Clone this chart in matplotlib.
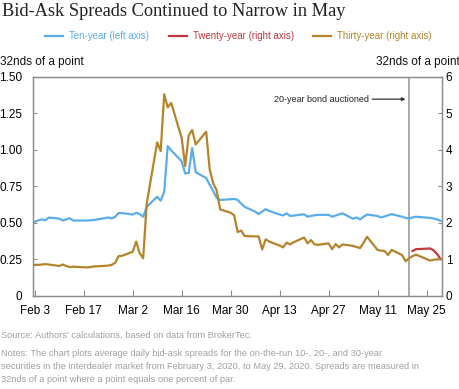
import matplotlib
matplotlib.use("Agg")
import matplotlib.pyplot as plt
import pandas as pd
import numpy as np

plt.rcParams['font.family'] = ['Liberation Sans', 'DejaVu Sans']

dates = [
    "2020-02-03", "2020-02-04", "2020-02-05", "2020-02-06", "2020-02-07",
    "2020-02-10", "2020-02-11", "2020-02-12", "2020-02-13", "2020-02-14",
    "2020-02-18", "2020-02-19", "2020-02-20", "2020-02-21",
    "2020-02-24", "2020-02-25", "2020-02-26", "2020-02-27", "2020-02-28",
    "2020-03-02", "2020-03-03", "2020-03-04", "2020-03-05", "2020-03-06",
    "2020-03-09", "2020-03-10", "2020-03-11", "2020-03-12", "2020-03-13",
    "2020-03-16", "2020-03-17", "2020-03-18", "2020-03-19", "2020-03-20",
    "2020-03-23", "2020-03-24", "2020-03-25", "2020-03-26", "2020-03-27",
    "2020-03-30", "2020-03-31", "2020-04-01", "2020-04-02", "2020-04-03",
    "2020-04-06", "2020-04-07", "2020-04-08", "2020-04-09", "2020-04-10",
    "2020-04-13", "2020-04-14", "2020-04-15", "2020-04-16", "2020-04-17",
    "2020-04-20", "2020-04-21", "2020-04-22", "2020-04-23", "2020-04-24",
    "2020-04-27", "2020-04-28", "2020-04-29", "2020-04-30", "2020-05-01",
    "2020-05-04", "2020-05-05", "2020-05-06", "2020-05-07", "2020-05-08",
    "2020-05-11", "2020-05-12", "2020-05-13", "2020-05-14", "2020-05-15",
    "2020-05-18", "2020-05-19", "2020-05-20", "2020-05-21", "2020-05-22",
    "2020-05-26", "2020-05-27", "2020-05-28", "2020-05-29",
]

ten_year = [
    0.506, 0.515, 0.522, 0.515, 0.534,
    0.527, 0.514, 0.522, 0.530, 0.514,
    0.514, 0.516, 0.518, 0.522,
    0.535, 0.528, 0.540, 0.565, 0.565,
    0.555, 0.567, 0.558, 0.540, 0.608,
    0.677, 0.650, 0.709, 1.024, 0.995,
    0.920, 0.837, 0.840, 1.010, 0.846,
    0.805, 0.760, 0.716, 0.670, 0.655,
    0.660, 0.662, 0.655, 0.630, 0.608,
    0.575, 0.558, 0.575, 0.592, 0.580,
    0.555, 0.549, 0.563, 0.545, 0.548,
    0.557, 0.540, 0.546, 0.550, 0.553,
    0.553, 0.540, 0.548, 0.556, 0.563,
    0.526, 0.535, 0.521, 0.540, 0.555,
    0.545, 0.535, 0.542, 0.550, 0.558,
    0.540, 0.532, 0.528, 0.535, 0.540,
    0.532, 0.528, 0.522, 0.512,
]

thirty_year = [
    0.84, 0.84, 0.85, 0.86, 0.85,
    0.81, 0.85, 0.81, 0.78, 0.79,
    0.77, 0.78, 0.80, 0.80,
    0.82, 0.84, 0.90, 1.08, 1.09,
    1.20, 1.48, 1.16, 1.02, 2.52,
    4.20, 3.96, 5.52, 5.16, 5.28,
    4.32, 3.55, 4.39, 4.54, 4.14,
    4.49, 3.46, 3.08, 2.88, 2.36,
    2.27, 2.20, 1.74, 1.78, 1.63,
    1.62, 1.62, 1.26, 1.54, 1.48,
    1.37, 1.32, 1.45, 1.40, 1.46,
    1.59, 1.43, 1.52, 1.40, 1.39,
    1.43, 1.27, 1.41, 1.32, 1.40,
    1.36, 1.33, 1.30, 1.45, 1.61,
    1.25, 1.23, 1.22, 1.11, 1.25,
    1.11, 0.94, 1.02, 1.08, 1.12,
    0.96, 0.98, 0.99, 1.00,
]

twenty_dates = ["2020-05-21", "2020-05-22", "2020-05-26", "2020-05-27", "2020-05-28", "2020-05-29"]
twenty_year = [1.22, 1.27, 1.29, 1.24, 1.14, 1.00]

tick_dates = ["2020-02-03", "2020-02-17", "2020-03-02", "2020-03-16", "2020-03-30",
              "2020-04-13", "2020-04-27", "2020-05-11", "2020-05-25"]
tick_labels = ["Feb 3", "Feb 17", "Mar 2", "Mar 16", "Mar 30", "Apr 13", "Apr 27", "May 11", "May 25"]
left_ticks = [0, 0.25, 0.50, 0.75, 1.00, 1.25, 1.50]
left_labels = ["0", "0.25", "0.50", "0.75", "1.00", "1.25", "1.50"]
right_ticks = [0, 1, 2, 3, 4, 5, 6]
auction_date = "2020-05-20"

BLUE = "#5aade8"
RED = "#c0393c"
GOLD = "#b5832b"
SPINE = "#8c8c8c"

W, H = 460, 389
fig = plt.figure(figsize=(W / 100, H / 100), dpi=100)
L, R, T, B = 33.3, 441.7, 76.7, 295.5
ax = fig.add_axes([L / W, 1 - B / H, (R - L) / W, (B - T) / H])
ax2 = ax.twinx()

d = pd.to_datetime(dates)
ax.plot(d, ten_year, color=BLUE, lw=1.6, label="Ten-year (left axis)")
ax2.plot(pd.to_datetime(twenty_dates), twenty_year, color=RED, lw=1.6, label="Twenty-year (right axis)")
ax2.plot(d, thirty_year, color=GOLD, lw=1.6, label="Thirty-year (right axis)")

x0 = pd.Timestamp("2020-02-03") - pd.Timedelta(hours=10)
x1 = pd.Timestamp("2020-05-29") + pd.Timedelta(hours=8)
ax.set_xlim(x0, x1)
ax.set_ylim(0, 1.5)
ax2.set_ylim(0, 6)

ax.set_xticks(pd.to_datetime(tick_dates))
ax.set_xticklabels(tick_labels)
ax.set_yticks(left_ticks)
ax.set_yticklabels(left_labels)
ax2.set_yticks(right_ticks)

for a in (ax, ax2):
    for s in a.spines.values():
        s.set_color(SPINE)
        s.set_linewidth(0.9)
ax.tick_params(axis='y', direction='in', length=3, width=0.8, color=SPINE, labelsize=8.5, pad=8)
ax.tick_params(axis='x', direction='in', length=4, width=0.8, color=SPINE, labelsize=8.5, pad=7)
ax2.tick_params(axis='y', direction='in', length=3, width=0.8, color=SPINE, labelsize=8.5, pad=3)

ax.axvline(pd.Timestamp(auction_date), color="#9a9a9a", lw=1.2, zorder=1)
tip = (pd.Timestamp(auction_date) - pd.Timedelta(days=1), 1.346)
ax.annotate("", xy=tip, xytext=(-24, 0), textcoords='offset points',
            arrowprops=dict(arrowstyle='-|>', color='#333333', lw=0.9, mutation_scale=5,
                            shrinkA=0, shrinkB=0))
ax.annotate("20-year bond auctioned", xy=tip, xytext=(-26, 0), textcoords='offset points',
            ha='right', va='center', fontsize=6.5, color='#222222')

fig.text(2 / W, 1 - 11 / H, "Bid-Ask Spreads Continued to Narrow in May", family=['Liberation Serif'],
         fontsize=13.2, ha='left', va='center', color='#222222')

handles = ax.get_lines()[:1] + ax2.get_lines()
leg = fig.legend(handles=handles, labels=[h.get_label() for h in handles], loc='center',
                 bbox_to_anchor=(238.5 / W, 1 - 36 / H), ncol=3, frameon=False, fontsize=7,
                 handlelength=1.85, handletextpad=0.62, columnspacing=2.0, labelcolor='linecolor')

fig.text(0 / W, 1 - 62 / H, "32nds of a point", fontsize=8.5, ha='left', va='center', color='#111111')
fig.text(460 / W, 1 - 62 / H, "32nds of a point", fontsize=8.5, ha='right', va='center', color='#111111')

GREY = "#a0a0a0"
fig.text(1 / W, 1 - 335 / H, "Source: Authors' calculations, based on data from BrokerTec.",
         fontsize=6.7, color=GREY, ha='left', va='center')
notes = ["Notes: The chart plots average daily bid-ask spreads for the on-the-run 10-, 20-, and 30-year",
         "securities in the interdealer market from February 3, 2020, to May 29, 2020. Spreads are measured in",
         "32nds of a point where a point equals one percent of par."]
for i, line in enumerate(notes):
    fig.text(1 / W, 1 - (353.3 + 13.3 * i) / H, line, fontsize=6.7, color=GREY, ha='left', va='center')

fig.savefig("out.png", dpi=100)
